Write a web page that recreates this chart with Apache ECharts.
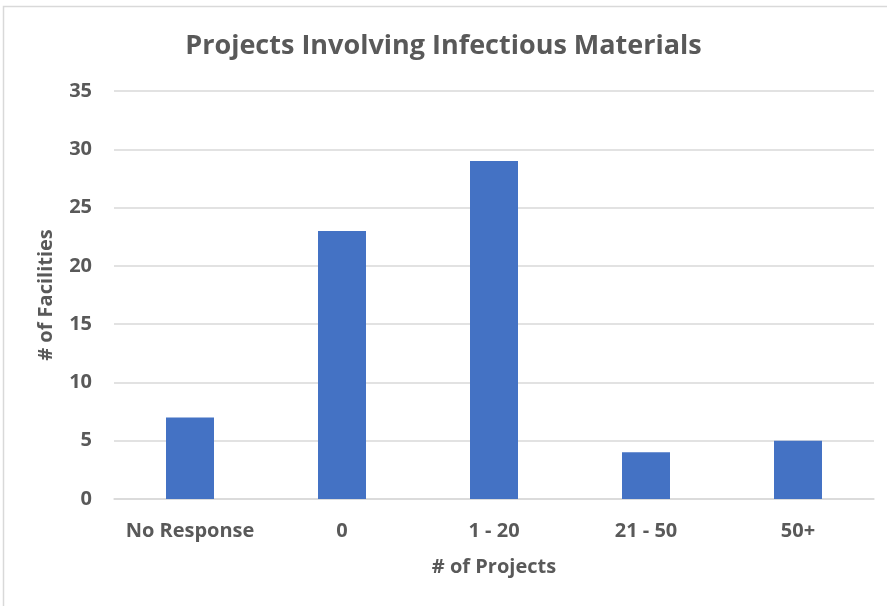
<!DOCTYPE html>
<html>
<head>
<meta charset="utf-8">
<style>
  html, body { margin: 0; padding: 0; background: #fff; }
  #chart { width: 887px; height: 606px; }
</style>
<script src="https://cdn.jsdelivr.net/npm/echarts@6/dist/echarts.min.js"></script>
</head>
<body>
<div id="chart"></div>
<script>
const categories = ['No Response', '0', '1 - 20', '21 - 50', '50+'];
const facilities = [7, 23, 29, 4, 5];

const font = "'Open Sans', sans-serif";
const textColor = '#595959';

const myChart = echarts.init(document.getElementById('chart'));

const option = {
    backgroundColor: '#fff',
    animation: false,
    title: {
        text: 'Projects Involving Infectious Materials',
        left: 'center',
        top: 28,
        textStyle: {
            color: textColor,
            fontFamily: font,
            fontWeight: 'bold',
            fontSize: 27,
        },
    },
    graphic: [
        {
            type: 'rect',
            shape: { x: 3.5, y: 6.5, width: 900, height: 620 },
            style: { fill: 'none', stroke: '#d9d9d9', lineWidth: 1.5 },
            silent: true,
        },
    ],
    grid: {
        left: 114,
        right: 13,
        top: 91,
        bottom: 107,
    },
    xAxis: {
        type: 'category',
        data: categories,
        name: '# of Projects',
        nameLocation: 'middle',
        nameGap: 58,
        nameTextStyle: {
            color: textColor,
            fontFamily: font,
            fontWeight: 'bold',
            fontSize: 20,
        },
        axisLine: { lineStyle: { color: '#d9d9d9', width: 1.5 } },
        axisTick: { show: false },
        axisLabel: {
            interval: 0,
            color: textColor,
            fontFamily: font,
            fontWeight: 'bold',
            fontSize: 20,
            margin: 22,
        },
    },
    yAxis: {
        type: 'value',
        min: 0,
        max: 35,
        interval: 5,
        name: '# of Facilities',
        nameLocation: 'middle',
        nameGap: 58,
        nameTextStyle: {
            color: textColor,
            fontFamily: font,
            fontWeight: 'bold',
            fontSize: 20,
        },
        axisLine: { show: false },
        axisTick: { show: false },
        axisLabel: {
            color: textColor,
            fontFamily: font,
            fontWeight: 'bold',
            fontSize: 20,
            margin: 22,
        },
        splitLine: { lineStyle: { color: '#d9d9d9', width: 1.5 } },
    },
    series: [
        {
            name: '# of Facilities',
            type: 'bar',
            data: facilities,
            barWidth: 48,
            itemStyle: { color: '#4472C4' },
        },
    ],
};

myChart.setOption(option);

window.addEventListener('resize', () => myChart.resize());
</script>
</body>
</html>
